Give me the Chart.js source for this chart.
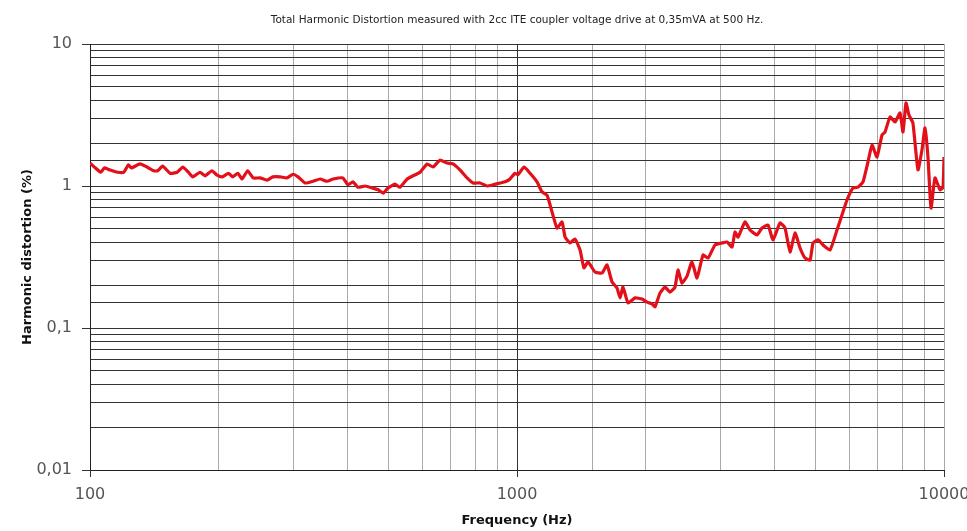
<!DOCTYPE html>
<html>
<head>
<meta charset="utf-8">
<title>Total Harmonic Distortion</title>
<script src="https://cdn.jsdelivr.net/npm/chart.js@4.4.1/dist/chart.umd.min.js"></script>
<style>
  html, body { margin: 0; padding: 0; background: #ffffff; }
  canvas { display: block; }
</style>
</head>
<body>
<canvas id="thdChart" width="967" height="531"></canvas>
<script>
// values
var chartTitle = 'Total Harmonic Distortion measured with 2cc ITE coupler voltage drive at 0,35mVA at 500 Hz.';
var xAxisTitle = 'Frequency (Hz)';
var yAxisTitle = 'Harmonic distortion (%)';

var xTickLabels = { 100: '100', 1000: '1000', 10000: '10000' };
var yTickLabels = { 0.01: '0,01', 0.1: '0,1', 1: '1', 10: '10' };

var freqHz = [
  100, 103, 106, 108, 111, 116, 120, 123, 125, 131, 136, 141, 144, 148, 154, 160, 165, 170, 174, 181,
  186, 193, 198, 204, 211, 216, 222, 227, 234, 241, 250, 260, 268, 279, 289, 299, 307, 319, 333, 346,
  359, 371, 391, 402, 413, 424, 441, 458, 473, 486, 499, 518, 532, 553, 571, 593, 616, 636, 660, 686,
  708, 735, 764, 789, 819, 851, 879, 913, 938, 963, 989, 1005, 1039, 1073, 1114, 1144, 1176, 1208, 1241, 1275,
  1296, 1331, 1367, 1405, 1435, 1467, 1523, 1582, 1625, 1669, 1715, 1743, 1771, 1820, 1890, 1962, 2016, 2071, 2105, 2162,
  2222, 2282, 2344, 2382, 2434, 2501, 2569, 2640, 2727, 2802, 2909, 3021, 3103, 3188, 3240, 3293, 3420, 3513, 3648, 3748,
  3871, 3977, 4130, 4243, 4359, 4478, 4601, 4727, 4857, 4935, 5070, 5209, 5408, 5616, 5769, 5927, 6122, 6290, 6462, 6637,
  6783, 6968, 7159, 7276, 7474, 7679, 7889, 8017, 8147, 8279, 8456, 8690, 8880, 9025, 9171, 9324, 9526, 9787, 9947, 10000
];

var thdPercent = [
  1.45, 1.34, 1.25, 1.34, 1.30, 1.25, 1.25, 1.41, 1.34, 1.43, 1.36, 1.28, 1.28, 1.38, 1.23, 1.25, 1.36, 1.25, 1.16, 1.25,
  1.18, 1.28, 1.20, 1.16, 1.23, 1.16, 1.23, 1.12, 1.28, 1.14, 1.14, 1.10, 1.16, 1.16, 1.14, 1.21, 1.16, 1.05, 1.08, 1.12,
  1.08, 1.12, 1.14, 1.02, 1.07, 0.98, 1.00, 0.97, 0.94, 0.89, 0.97, 1.03, 0.98, 1.12, 1.18, 1.25, 1.43, 1.36, 1.52, 1.45,
  1.43, 1.30, 1.14, 1.05, 1.05, 1.00, 1.02, 1.05, 1.07, 1.12, 1.23, 1.20, 1.36, 1.23, 1.07, 0.91, 0.86, 0.656, 0.506, 0.558,
  0.437, 0.397, 0.423, 0.354, 0.265, 0.292, 0.248, 0.244, 0.278, 0.211, 0.191, 0.163, 0.194, 0.150, 0.163, 0.160, 0.152, 0.148, 0.141, 0.176,
  0.194, 0.179, 0.194, 0.256, 0.207, 0.232, 0.292, 0.225, 0.327, 0.311, 0.384, 0.397, 0.403, 0.372, 0.474, 0.437, 0.558, 0.490, 0.452, 0.506,
  0.531, 0.417, 0.549, 0.506, 0.343, 0.467, 0.366, 0.311, 0.301, 0.397, 0.417, 0.384, 0.354, 0.490, 0.625, 0.797, 0.968, 0.98, 1.07, 1.48,
  1.94, 1.60, 2.29, 2.40, 3.06, 2.82, 3.27, 2.40, 3.84, 3.16, 2.78, 1.30, 1.79, 2.56, 1.60, 0.70, 1.14, 0.94, 0.98, 1.60
];

var points = [];
for (var i = 0; i < freqHz.length; i++) {
  points.push({ x: freqHz[i], y: thdPercent[i] });
}

function isDecade(v) {
  var l = Math.log10(v);
  return Math.abs(l - Math.round(l)) < 1e-6;
}

var plotTitle = {
  id: 'plotTitle',
  afterDraw: function (chart) {
    var ctx = chart.ctx, area = chart.chartArea;
    ctx.save();
    ctx.font = '10.5px "DejaVu Sans"';
    ctx.fillStyle = '#222';
    ctx.textAlign = 'center';
    ctx.textBaseline = 'middle';
    ctx.fillText(chartTitle, (area.left + area.right) / 2, 20);
    ctx.restore();
  }
};

var ctx = document.getElementById('thdChart');
var myChart = new Chart(ctx, {
  type: 'line',
  data: {
    datasets: [{
      data: points,
      borderColor: '#e3101a',
      borderWidth: 3.2,
      pointRadius: 0,
      tension: 0.15,
      fill: false
    }]
  },
  options: {
    responsive: false,
    animation: false,
    layout: { padding: { top: 44, right: 23, left: 0, bottom: 0 } },
    plugins: {
      legend: { display: false },
      tooltip: { enabled: false }
    },
    scales: {
      x: {
        type: 'logarithmic',
        min: 100,
        max: 10000,
        afterFit: function (scale) {
          scale.height = 61;
          scale.paddingLeft = 0;
          scale.paddingRight = 0;
        },
        border: { color: '#222', width: 1 },
        grid: {
          color: function (c) {
            var v = c.tick ? c.tick.value : 0;
            return v === 1000 ? '#333' : '#aaa';
          },
          tickColor: function (c) {
            return c.tick && isDecade(c.tick.value) ? '#333' : 'rgba(0,0,0,0)';
          },
          tickLength: 7,
          lineWidth: 1
        },
        ticks: {
          autoSkip: false,
          maxRotation: 0,
          padding: 8,
          color: '#555',
          font: { family: 'DejaVu Sans', size: 16 },
          callback: function (value) {
            return xTickLabels[value] !== undefined ? xTickLabels[value] : '';
          }
        },
        title: {
          display: true,
          text: xAxisTitle,
          color: '#111',
          font: { family: 'DejaVu Sans', size: 13, weight: 'bold' },
          padding: { top: 0, bottom: 3 }
        }
      },
      y: {
        type: 'logarithmic',
        min: 0.01,
        max: 10,
        afterFit: function (scale) {
          scale.width = 90;
        },
        border: { color: '#222', width: 1 },
        grid: {
          color: '#333',
          tickColor: function (c) {
            return c.tick && isDecade(c.tick.value) ? '#333' : 'rgba(0,0,0,0)';
          },
          tickLength: 8,
          lineWidth: 1
        },
        ticks: {
          autoSkip: false,
          padding: 10,
          color: '#555',
          font: { family: 'DejaVu Sans', size: 16 },
          callback: function (value) {
            for (var k in yTickLabels) {
              if (Math.abs(Number(k) - value) < value * 1e-6) return yTickLabels[k];
            }
            return '';
          }
        },
        title: {
          display: true,
          text: yAxisTitle,
          color: '#111',
          font: { family: 'DejaVu Sans', size: 13, weight: 'bold' },
          padding: { top: 20, bottom: 0 }
        }
      }
    }
  },
  plugins: [plotTitle]
});
</script>
</body>
</html>
